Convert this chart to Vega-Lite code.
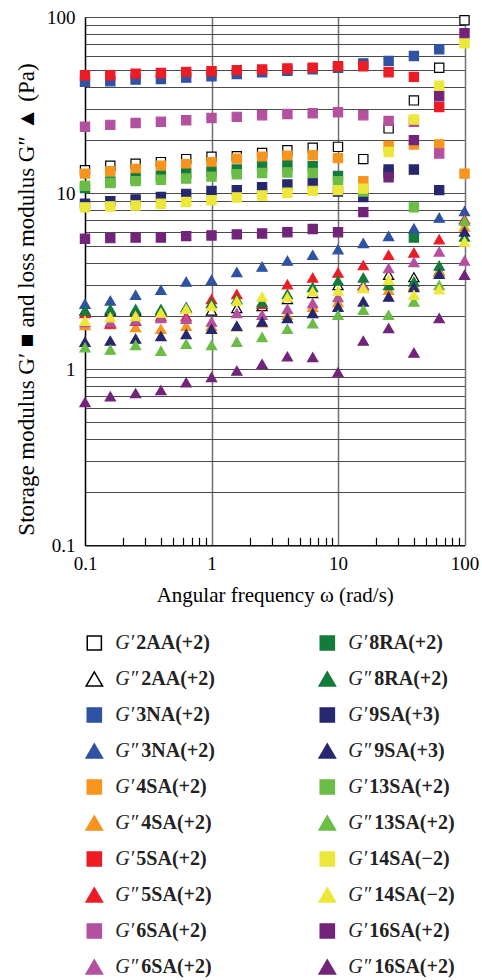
{
 "$schema": "https://vega.github.io/schema/vega-lite/v6.json",
 "background": "white",
 "padding": {"left": 15, "top": 8, "right": 5, "bottom": 0},
 "config": {"font": "Liberation Serif", "view": {"stroke": null}},
 "spacing": 19,
 "datasets": {
  "pts": [
   {"w":0.1,"s":"2AA(+2)","m":"G′","v":13.5},{"w":0.1585,"s":"2AA(+2)","m":"G′","v":14.3},{"w":0.2512,"s":"2AA(+2)","m":"G′","v":14.7},{"w":0.3981,"s":"2AA(+2)","m":"G′","v":15.0},{"w":0.631,"s":"2AA(+2)","m":"G′","v":15.6},{"w":1,"s":"2AA(+2)","m":"G′","v":16.1},{"w":1.585,"s":"2AA(+2)","m":"G′","v":16.2},{"w":2.512,"s":"2AA(+2)","m":"G′","v":16.9},{"w":3.981,"s":"2AA(+2)","m":"G′","v":17.5},{"w":6.31,"s":"2AA(+2)","m":"G′","v":18.1},{"w":10,"s":"2AA(+2)","m":"G′","v":18.3},{"w":15.85,"s":"2AA(+2)","m":"G′","v":15.6},{"w":25.12,"s":"2AA(+2)","m":"G′","v":23.3},{"w":39.81,"s":"2AA(+2)","m":"G′","v":33.6},{"w":63.1,"s":"2AA(+2)","m":"G′","v":51.5},{"w":100,"s":"2AA(+2)","m":"G′","v":95.8},
   {"w":0.1,"s":"3NA(+2)","m":"G′","v":42.8},{"w":0.1585,"s":"3NA(+2)","m":"G′","v":43.2},{"w":0.2512,"s":"3NA(+2)","m":"G′","v":44.2},{"w":0.3981,"s":"3NA(+2)","m":"G′","v":44.5},{"w":0.631,"s":"3NA(+2)","m":"G′","v":45.3},{"w":1,"s":"3NA(+2)","m":"G′","v":46.1},{"w":1.585,"s":"3NA(+2)","m":"G′","v":47.5},{"w":2.512,"s":"3NA(+2)","m":"G′","v":48.5},{"w":3.981,"s":"3NA(+2)","m":"G′","v":49.5},{"w":6.31,"s":"3NA(+2)","m":"G′","v":50.5},{"w":10,"s":"3NA(+2)","m":"G′","v":51.5},{"w":15.85,"s":"3NA(+2)","m":"G′","v":54.5},{"w":25.12,"s":"3NA(+2)","m":"G′","v":56.3},{"w":39.81,"s":"3NA(+2)","m":"G′","v":60.1},{"w":63.1,"s":"3NA(+2)","m":"G′","v":65.6},
   {"w":0.1,"s":"4SA(+2)","m":"G′","v":12.9},{"w":0.1585,"s":"4SA(+2)","m":"G′","v":13.3},{"w":0.2512,"s":"4SA(+2)","m":"G′","v":13.7},{"w":0.3981,"s":"4SA(+2)","m":"G′","v":14.3},{"w":0.631,"s":"4SA(+2)","m":"G′","v":14.6},{"w":1,"s":"4SA(+2)","m":"G′","v":15.0},{"w":1.585,"s":"4SA(+2)","m":"G′","v":15.7},{"w":2.512,"s":"4SA(+2)","m":"G′","v":16.1},{"w":3.981,"s":"4SA(+2)","m":"G′","v":16.3},{"w":6.31,"s":"4SA(+2)","m":"G′","v":16.4},{"w":10,"s":"4SA(+2)","m":"G′","v":15.8},{"w":15.85,"s":"4SA(+2)","m":"G′","v":11.7},{"w":25.12,"s":"4SA(+2)","m":"G′","v":18.5},{"w":39.81,"s":"4SA(+2)","m":"G′","v":18.9},{"w":63.1,"s":"4SA(+2)","m":"G′","v":18.9},{"w":100,"s":"4SA(+2)","m":"G′","v":12.9},
   {"w":0.1,"s":"5SA(+2)","m":"G′","v":46.7},{"w":0.1585,"s":"5SA(+2)","m":"G′","v":46.7},{"w":0.2512,"s":"5SA(+2)","m":"G′","v":47.7},{"w":0.3981,"s":"5SA(+2)","m":"G′","v":48.1},{"w":0.631,"s":"5SA(+2)","m":"G′","v":48.8},{"w":1,"s":"5SA(+2)","m":"G′","v":49.2},{"w":1.585,"s":"5SA(+2)","m":"G′","v":49.9},{"w":2.512,"s":"5SA(+2)","m":"G′","v":50.3},{"w":3.981,"s":"5SA(+2)","m":"G′","v":51.0},{"w":6.31,"s":"5SA(+2)","m":"G′","v":51.6},{"w":10,"s":"5SA(+2)","m":"G′","v":52.5},{"w":15.85,"s":"5SA(+2)","m":"G′","v":52.5},{"w":25.12,"s":"5SA(+2)","m":"G′","v":48.6},{"w":39.81,"s":"5SA(+2)","m":"G′","v":45.7},{"w":63.1,"s":"5SA(+2)","m":"G′","v":30.8},
   {"w":0.1,"s":"6SA(+2)","m":"G′","v":23.8},{"w":0.1585,"s":"6SA(+2)","m":"G′","v":24.4},{"w":0.2512,"s":"6SA(+2)","m":"G′","v":25.0},{"w":0.3981,"s":"6SA(+2)","m":"G′","v":25.4},{"w":0.631,"s":"6SA(+2)","m":"G′","v":25.9},{"w":1,"s":"6SA(+2)","m":"G′","v":26.7},{"w":1.585,"s":"6SA(+2)","m":"G′","v":27.1},{"w":2.512,"s":"6SA(+2)","m":"G′","v":27.7},{"w":3.981,"s":"6SA(+2)","m":"G′","v":28.1},{"w":6.31,"s":"6SA(+2)","m":"G′","v":28.4},{"w":10,"s":"6SA(+2)","m":"G′","v":28.8},{"w":15.85,"s":"6SA(+2)","m":"G′","v":27.7},{"w":25.12,"s":"6SA(+2)","m":"G′","v":25.7},{"w":39.81,"s":"6SA(+2)","m":"G′","v":25.4},{"w":63.1,"s":"6SA(+2)","m":"G′","v":16.8},
   {"w":0.1,"s":"8RA(+2)","m":"G′","v":10.7},{"w":0.1585,"s":"8RA(+2)","m":"G′","v":11.6},{"w":0.2512,"s":"8RA(+2)","m":"G′","v":12.1},{"w":0.3981,"s":"8RA(+2)","m":"G′","v":12.5},{"w":0.631,"s":"8RA(+2)","m":"G′","v":12.9},{"w":1,"s":"8RA(+2)","m":"G′","v":13.2},{"w":1.585,"s":"8RA(+2)","m":"G′","v":13.6},{"w":2.512,"s":"8RA(+2)","m":"G′","v":14.1},{"w":3.981,"s":"8RA(+2)","m":"G′","v":14.3},{"w":6.31,"s":"8RA(+2)","m":"G′","v":14.2},{"w":10,"s":"8RA(+2)","m":"G′","v":12.5},{"w":25.12,"s":"8RA(+2)","m":"G′","v":13.0},{"w":39.81,"s":"8RA(+2)","m":"G′","v":5.6},
   {"w":0.1,"s":"9SA(+3)","m":"G′","v":8.7},{"w":0.1585,"s":"9SA(+3)","m":"G′","v":9.0},{"w":0.2512,"s":"9SA(+3)","m":"G′","v":9.2},{"w":0.3981,"s":"9SA(+3)","m":"G′","v":9.5},{"w":0.631,"s":"9SA(+3)","m":"G′","v":9.9},{"w":1,"s":"9SA(+3)","m":"G′","v":10.3},{"w":1.585,"s":"9SA(+3)","m":"G′","v":10.4},{"w":2.512,"s":"9SA(+3)","m":"G′","v":10.8},{"w":3.981,"s":"9SA(+3)","m":"G′","v":11.2},{"w":6.31,"s":"9SA(+3)","m":"G′","v":11.4},{"w":10,"s":"9SA(+3)","m":"G′","v":10.2},{"w":15.85,"s":"9SA(+3)","m":"G′","v":9.5},{"w":25.12,"s":"9SA(+3)","m":"G′","v":13.6},{"w":39.81,"s":"9SA(+3)","m":"G′","v":13.6},{"w":63.1,"s":"9SA(+3)","m":"G′","v":10.4},
   {"w":0.1,"s":"13SA(+2)","m":"G′","v":11.0},{"w":0.1585,"s":"13SA(+2)","m":"G′","v":11.4},{"w":0.2512,"s":"13SA(+2)","m":"G′","v":11.7},{"w":0.3981,"s":"13SA(+2)","m":"G′","v":11.9},{"w":0.631,"s":"13SA(+2)","m":"G′","v":12.1},{"w":1,"s":"13SA(+2)","m":"G′","v":12.4},{"w":1.585,"s":"13SA(+2)","m":"G′","v":12.8},{"w":2.512,"s":"13SA(+2)","m":"G′","v":13.0},{"w":3.981,"s":"13SA(+2)","m":"G′","v":13.1},{"w":6.31,"s":"13SA(+2)","m":"G′","v":13.0},{"w":10,"s":"13SA(+2)","m":"G′","v":11.7},{"w":15.85,"s":"13SA(+2)","m":"G′","v":10.2},{"w":39.81,"s":"13SA(+2)","m":"G′","v":8.3},
   {"w":0.1,"s":"14SA(−2)","m":"G′","v":8.3},{"w":0.1585,"s":"14SA(−2)","m":"G′","v":8.4},{"w":0.2512,"s":"14SA(−2)","m":"G′","v":8.5},{"w":0.3981,"s":"14SA(−2)","m":"G′","v":8.7},{"w":0.631,"s":"14SA(−2)","m":"G′","v":8.9},{"w":1,"s":"14SA(−2)","m":"G′","v":9.1},{"w":1.585,"s":"14SA(−2)","m":"G′","v":9.45},{"w":2.512,"s":"14SA(−2)","m":"G′","v":9.7},{"w":3.981,"s":"14SA(−2)","m":"G′","v":10.05},{"w":6.31,"s":"14SA(−2)","m":"G′","v":10.3},{"w":10,"s":"14SA(−2)","m":"G′","v":10.4},{"w":15.85,"s":"14SA(−2)","m":"G′","v":10.6},{"w":25.12,"s":"14SA(−2)","m":"G′","v":17.1},{"w":39.81,"s":"14SA(−2)","m":"G′","v":26.2},{"w":63.1,"s":"14SA(−2)","m":"G′","v":40.7},{"w":100,"s":"14SA(−2)","m":"G′","v":71},
   {"w":0.1,"s":"16SA(+2)","m":"G′","v":5.5},{"w":0.1585,"s":"16SA(+2)","m":"G′","v":5.55},{"w":0.2512,"s":"16SA(+2)","m":"G′","v":5.6},{"w":0.3981,"s":"16SA(+2)","m":"G′","v":5.6},{"w":0.631,"s":"16SA(+2)","m":"G′","v":5.7},{"w":1,"s":"16SA(+2)","m":"G′","v":5.75},{"w":1.585,"s":"16SA(+2)","m":"G′","v":5.83},{"w":2.512,"s":"16SA(+2)","m":"G′","v":5.9},{"w":3.981,"s":"16SA(+2)","m":"G′","v":6.0},{"w":6.31,"s":"16SA(+2)","m":"G′","v":6.25},{"w":10,"s":"16SA(+2)","m":"G′","v":6.0},{"w":15.85,"s":"16SA(+2)","m":"G′","v":7.8},{"w":25.12,"s":"16SA(+2)","m":"G′","v":12.3},{"w":39.81,"s":"16SA(+2)","m":"G′","v":20},{"w":63.1,"s":"16SA(+2)","m":"G′","v":35.5},{"w":100,"s":"16SA(+2)","m":"G′","v":81},
   {"w":0.1,"s":"2AA(+2)","m":"G″","v":2.15},{"w":0.1585,"s":"2AA(+2)","m":"G″","v":2.15},{"w":0.2512,"s":"2AA(+2)","m":"G″","v":2.15},{"w":0.3981,"s":"2AA(+2)","m":"G″","v":2.15},{"w":0.631,"s":"2AA(+2)","m":"G″","v":2.2},{"w":1,"s":"2AA(+2)","m":"G″","v":2.15},{"w":1.585,"s":"2AA(+2)","m":"G″","v":2.22},{"w":2.512,"s":"2AA(+2)","m":"G″","v":2.28},{"w":3.981,"s":"2AA(+2)","m":"G″","v":2.5},{"w":6.31,"s":"2AA(+2)","m":"G″","v":2.7},{"w":10,"s":"2AA(+2)","m":"G″","v":3.0},{"w":15.85,"s":"2AA(+2)","m":"G″","v":3.0},{"w":25.12,"s":"2AA(+2)","m":"G″","v":3.43},{"w":39.81,"s":"2AA(+2)","m":"G″","v":3.33},{"w":63.1,"s":"2AA(+2)","m":"G″","v":3.6},
   {"w":0.1,"s":"3NA(+2)","m":"G″","v":2.35},{"w":0.1585,"s":"3NA(+2)","m":"G″","v":2.45},{"w":0.2512,"s":"3NA(+2)","m":"G″","v":2.64},{"w":0.3981,"s":"3NA(+2)","m":"G″","v":2.82},{"w":0.631,"s":"3NA(+2)","m":"G″","v":3.14},{"w":1,"s":"3NA(+2)","m":"G″","v":3.21},{"w":1.585,"s":"3NA(+2)","m":"G″","v":3.56},{"w":2.512,"s":"3NA(+2)","m":"G″","v":3.82},{"w":3.981,"s":"3NA(+2)","m":"G″","v":4.13},{"w":6.31,"s":"3NA(+2)","m":"G″","v":4.45},{"w":10,"s":"3NA(+2)","m":"G″","v":4.79},{"w":15.85,"s":"3NA(+2)","m":"G″","v":5.2},{"w":25.12,"s":"3NA(+2)","m":"G″","v":5.7},{"w":39.81,"s":"3NA(+2)","m":"G″","v":6.3},{"w":63.1,"s":"3NA(+2)","m":"G″","v":7.25},{"w":100,"s":"3NA(+2)","m":"G″","v":7.9},
   {"w":0.1,"s":"4SA(+2)","m":"G″","v":1.78},{"w":0.1585,"s":"4SA(+2)","m":"G″","v":1.8},{"w":0.2512,"s":"4SA(+2)","m":"G″","v":1.73},{"w":0.3981,"s":"4SA(+2)","m":"G″","v":1.69},{"w":0.631,"s":"4SA(+2)","m":"G″","v":1.76},{"w":1,"s":"4SA(+2)","m":"G″","v":1.76},{"w":1.585,"s":"4SA(+2)","m":"G″","v":1.75},{"w":2.512,"s":"4SA(+2)","m":"G″","v":1.84},{"w":3.981,"s":"4SA(+2)","m":"G″","v":2.03},{"w":6.31,"s":"4SA(+2)","m":"G″","v":2.26},{"w":10,"s":"4SA(+2)","m":"G″","v":2.4},{"w":15.85,"s":"4SA(+2)","m":"G″","v":2.9},{"w":25.12,"s":"4SA(+2)","m":"G″","v":2.82},{"w":39.81,"s":"4SA(+2)","m":"G″","v":3.0},{"w":63.1,"s":"4SA(+2)","m":"G″","v":3.6},{"w":100,"s":"4SA(+2)","m":"G″","v":6.45},
   {"w":0.1,"s":"5SA(+2)","m":"G″","v":2.08},{"w":0.1585,"s":"5SA(+2)","m":"G″","v":1.81},{"w":0.2512,"s":"5SA(+2)","m":"G″","v":1.88},{"w":0.3981,"s":"5SA(+2)","m":"G″","v":2.0},{"w":0.631,"s":"5SA(+2)","m":"G″","v":1.99},{"w":1,"s":"5SA(+2)","m":"G″","v":2.5},{"w":1.585,"s":"5SA(+2)","m":"G″","v":2.67},{"w":2.512,"s":"5SA(+2)","m":"G″","v":2.35},{"w":3.981,"s":"5SA(+2)","m":"G″","v":3.03},{"w":6.31,"s":"5SA(+2)","m":"G″","v":3.31},{"w":10,"s":"5SA(+2)","m":"G″","v":3.53},{"w":15.85,"s":"5SA(+2)","m":"G″","v":3.89},{"w":25.12,"s":"5SA(+2)","m":"G″","v":4.45},{"w":39.81,"s":"5SA(+2)","m":"G″","v":4.59},{"w":63.1,"s":"5SA(+2)","m":"G″","v":5.46},{"w":100,"s":"5SA(+2)","m":"G″","v":7.1},
   {"w":0.1,"s":"6SA(+2)","m":"G″","v":1.85},{"w":0.1585,"s":"6SA(+2)","m":"G″","v":1.85},{"w":0.2512,"s":"6SA(+2)","m":"G″","v":1.89},{"w":0.3981,"s":"6SA(+2)","m":"G″","v":1.95},{"w":0.631,"s":"6SA(+2)","m":"G″","v":1.93},{"w":1,"s":"6SA(+2)","m":"G″","v":1.86},{"w":1.585,"s":"6SA(+2)","m":"G″","v":2.08},{"w":2.512,"s":"6SA(+2)","m":"G″","v":2.03},{"w":3.981,"s":"6SA(+2)","m":"G″","v":2.2},{"w":6.31,"s":"6SA(+2)","m":"G″","v":2.37},{"w":10,"s":"6SA(+2)","m":"G″","v":2.56},{"w":15.85,"s":"6SA(+2)","m":"G″","v":3.0},{"w":25.12,"s":"6SA(+2)","m":"G″","v":3.74},{"w":39.81,"s":"6SA(+2)","m":"G″","v":4.05},{"w":63.1,"s":"6SA(+2)","m":"G″","v":4.65},{"w":100,"s":"6SA(+2)","m":"G″","v":4.13},
   {"w":0.1,"s":"8RA(+2)","m":"G″","v":2.15},{"w":0.1585,"s":"8RA(+2)","m":"G″","v":2.19},{"w":0.2512,"s":"8RA(+2)","m":"G″","v":2.19},{"w":0.3981,"s":"8RA(+2)","m":"G″","v":2.19},{"w":0.631,"s":"8RA(+2)","m":"G″","v":2.25},{"w":1,"s":"8RA(+2)","m":"G″","v":2.37},{"w":1.585,"s":"8RA(+2)","m":"G″","v":2.5},{"w":2.512,"s":"8RA(+2)","m":"G″","v":2.4},{"w":3.981,"s":"8RA(+2)","m":"G″","v":2.67},{"w":6.31,"s":"8RA(+2)","m":"G″","v":2.92},{"w":10,"s":"8RA(+2)","m":"G″","v":3.18},{"w":15.85,"s":"8RA(+2)","m":"G″","v":3.31},{"w":25.12,"s":"8RA(+2)","m":"G″","v":3.0},{"w":39.81,"s":"8RA(+2)","m":"G″","v":3.14},{"w":63.1,"s":"8RA(+2)","m":"G″","v":3.87},{"w":100,"s":"8RA(+2)","m":"G″","v":5.66},
   {"w":0.1,"s":"9SA(+3)","m":"G″","v":1.43},{"w":0.1585,"s":"9SA(+3)","m":"G″","v":1.45},{"w":0.2512,"s":"9SA(+3)","m":"G″","v":1.49},{"w":0.3981,"s":"9SA(+3)","m":"G″","v":1.54},{"w":0.631,"s":"9SA(+3)","m":"G″","v":1.58},{"w":1,"s":"9SA(+3)","m":"G″","v":1.69},{"w":1.585,"s":"9SA(+3)","m":"G″","v":1.76},{"w":2.512,"s":"9SA(+3)","m":"G″","v":1.86},{"w":3.981,"s":"9SA(+3)","m":"G″","v":1.95},{"w":6.31,"s":"9SA(+3)","m":"G″","v":2.08},{"w":10,"s":"9SA(+3)","m":"G″","v":2.26},{"w":15.85,"s":"9SA(+3)","m":"G″","v":2.42},{"w":25.12,"s":"9SA(+3)","m":"G″","v":2.58},{"w":39.81,"s":"9SA(+3)","m":"G″","v":2.92},{"w":63.1,"s":"9SA(+3)","m":"G″","v":3.47},{"w":100,"s":"9SA(+3)","m":"G″","v":6.04},
   {"w":0.1,"s":"13SA(+2)","m":"G″","v":1.33},{"w":0.1585,"s":"13SA(+2)","m":"G″","v":1.29},{"w":0.2512,"s":"13SA(+2)","m":"G″","v":1.37},{"w":0.3981,"s":"13SA(+2)","m":"G″","v":1.27},{"w":0.631,"s":"13SA(+2)","m":"G″","v":1.39},{"w":1,"s":"13SA(+2)","m":"G″","v":1.37},{"w":1.585,"s":"13SA(+2)","m":"G″","v":1.43},{"w":2.512,"s":"13SA(+2)","m":"G″","v":1.52},{"w":3.981,"s":"13SA(+2)","m":"G″","v":1.69},{"w":6.31,"s":"13SA(+2)","m":"G″","v":1.82},{"w":10,"s":"13SA(+2)","m":"G″","v":2.03},{"w":15.85,"s":"13SA(+2)","m":"G″","v":2.17},{"w":25.12,"s":"13SA(+2)","m":"G″","v":2.03},{"w":39.81,"s":"13SA(+2)","m":"G″","v":2.42},{"w":63.1,"s":"13SA(+2)","m":"G″","v":3.0},{"w":100,"s":"13SA(+2)","m":"G″","v":6.95},
   {"w":0.1,"s":"14SA(−2)","m":"G″","v":1.88},{"w":0.1585,"s":"14SA(−2)","m":"G″","v":1.97},{"w":0.2512,"s":"14SA(−2)","m":"G″","v":2.0},{"w":0.3981,"s":"14SA(−2)","m":"G″","v":2.09},{"w":0.631,"s":"14SA(−2)","m":"G″","v":2.2},{"w":1,"s":"14SA(−2)","m":"G″","v":2.28},{"w":1.585,"s":"14SA(−2)","m":"G″","v":2.44},{"w":2.512,"s":"14SA(−2)","m":"G″","v":2.58},{"w":3.981,"s":"14SA(−2)","m":"G″","v":2.56},{"w":6.31,"s":"14SA(−2)","m":"G″","v":2.76},{"w":10,"s":"14SA(−2)","m":"G″","v":2.79},{"w":15.85,"s":"14SA(−2)","m":"G″","v":2.88},{"w":25.12,"s":"14SA(−2)","m":"G″","v":3.21},{"w":39.81,"s":"14SA(−2)","m":"G″","v":2.64},{"w":63.1,"s":"14SA(−2)","m":"G″","v":2.84},{"w":100,"s":"14SA(−2)","m":"G″","v":5.3},
   {"w":0.1,"s":"16SA(+2)","m":"G″","v":0.65},{"w":0.1585,"s":"16SA(+2)","m":"G″","v":0.70},{"w":0.2512,"s":"16SA(+2)","m":"G″","v":0.73},{"w":0.3981,"s":"16SA(+2)","m":"G″","v":0.76},{"w":0.631,"s":"16SA(+2)","m":"G″","v":0.84},{"w":1,"s":"16SA(+2)","m":"G″","v":0.90},{"w":1.585,"s":"16SA(+2)","m":"G″","v":0.98},{"w":2.512,"s":"16SA(+2)","m":"G″","v":1.07},{"w":3.981,"s":"16SA(+2)","m":"G″","v":1.18},{"w":6.31,"s":"16SA(+2)","m":"G″","v":1.17},{"w":10,"s":"16SA(+2)","m":"G″","v":0.96},{"w":15.85,"s":"16SA(+2)","m":"G″","v":1.45},{"w":25.12,"s":"16SA(+2)","m":"G″","v":1.71},{"w":39.81,"s":"16SA(+2)","m":"G″","v":1.24},{"w":63.1,"s":"16SA(+2)","m":"G″","v":1.95},{"w":100,"s":"16SA(+2)","m":"G″","v":3.43}
  ],
  "leg": [
   {"s":"2AA(+2)","m":"G′","col":0,"row":0},{"s":"2AA(+2)","m":"G″","col":0,"row":1},
   {"s":"3NA(+2)","m":"G′","col":0,"row":2},{"s":"3NA(+2)","m":"G″","col":0,"row":3},
   {"s":"4SA(+2)","m":"G′","col":0,"row":4},{"s":"4SA(+2)","m":"G″","col":0,"row":5},
   {"s":"5SA(+2)","m":"G′","col":0,"row":6},{"s":"5SA(+2)","m":"G″","col":0,"row":7},
   {"s":"6SA(+2)","m":"G′","col":0,"row":8},{"s":"6SA(+2)","m":"G″","col":0,"row":9},
   {"s":"8RA(+2)","m":"G′","col":1,"row":0},{"s":"8RA(+2)","m":"G″","col":1,"row":1},
   {"s":"9SA(+3)","m":"G′","col":1,"row":2},{"s":"9SA(+3)","m":"G″","col":1,"row":3},
   {"s":"13SA(+2)","m":"G′","col":1,"row":4},{"s":"13SA(+2)","m":"G″","col":1,"row":5},
   {"s":"14SA(−2)","m":"G′","col":1,"row":6},{"s":"14SA(−2)","m":"G″","col":1,"row":7},
   {"s":"16SA(+2)","m":"G′","col":1,"row":8},{"s":"16SA(+2)","m":"G″","col":1,"row":9}
  ]
 },
 "vconcat": [
  {
   "width": 379.5,
   "height": 528.3,
   "data": {"name": "pts"},
   "resolve": {"axis": {"x": "independent"}},
   "encoding": {
    "y": {"field": "v", "type": "quantitative",
     "scale": {"type": "log", "domain": [0.1, 100], "nice": false},
     "axis": {
      "values": [0.1,0.2,0.3,0.4,0.5,0.6,0.7,0.8,0.9,1,2,3,4,5,6,7,8,9,10,20,30,40,50,60,70,80,90,100],
      "labelExpr": "indexof([0.1,1,10,100], datum.value) >= 0 ? format(datum.value, '~g') : ''",
      "labelFontSize": 19, "labelColor": "black", "labelFont": "Liberation Serif",
      "labelOverlap": false, "labelFlush": false, "labelPadding": 10,
      "grid": true, "gridColor": "#4a4a4a", "gridWidth": 1.1,
      "ticks": false,
      "domainColor": "black", "domainWidth": 1.3,
      "minExtent": 38, "maxExtent": 38,
      "title": "Storage modulus G′ ■ and loss modulus G″ ▲ (Pa)", "titleFont": "Liberation Serif", "titleFontSize": 23, "titleFontWeight": "normal", "titleColor": "black", "titlePadding": 9,
      "titleY": 282
     }
    },
    "color": {"field": "s", "type": "nominal", "legend": null,
     "scale": {"domain": ["2AA(+2)","3NA(+2)","4SA(+2)","5SA(+2)","6SA(+2)","8RA(+2)","9SA(+3)","13SA(+2)","14SA(−2)","16SA(+2)"],
      "range": ["#ffffff","#2f52a3","#f7941d","#ed1c24","#b4519f","#137b3b","#25276f","#6bbd45","#ede73a","#72247a"]}},
    "stroke": {"field": "s", "type": "nominal", "legend": null,
     "scale": {"domain": ["2AA(+2)","3NA(+2)","4SA(+2)","5SA(+2)","6SA(+2)","8RA(+2)","9SA(+3)","13SA(+2)","14SA(−2)","16SA(+2)"],
      "range": ["#000000","#2f52a3","#f7941d","#ed1c24","#b4519f","#137b3b","#25276f","#6bbd45","#ede73a","#72247a"]}}
   },
   "layer": [
    {"transform": [{"filter": "datum.m === 'G′'"}],
     "mark": {"type": "point", "shape": "square", "filled": true, "size": 85, "strokeWidth": 1.2, "opacity": 1},
     "encoding": {
      "x": {"field": "w", "type": "quantitative",
       "scale": {"type": "log", "domain": [0.1, 100], "nice": false},
       "axis": {
        "orient": "bottom",
        "values": [0.1,1,10,100],
        "format": "~g",
        "labelFontSize": 19, "labelColor": "black", "labelFont": "Liberation Serif",
        "labelOverlap": false, "labelFlush": false, "labelPadding": 9,
        "grid": true, "gridColor": "#707070", "gridWidth": 1.5,
        "ticks": false,
        "domainColor": "black", "domainWidth": 1.3,
        "title": "Angular frequency ω (rad/s)", "titleFont": "Liberation Serif", "titleFontSize": 21, "titleFontWeight": "normal", "titleColor": "black", "titlePadding": 11
       }
      }
     }},
    {"transform": [{"filter": "datum.m === 'G″'"}],
     "mark": {"type": "point", "shape": "triangle-up", "filled": true, "size": 105, "strokeWidth": 1.2, "opacity": 1},
     "encoding": {
      "x": {"field": "w", "type": "quantitative",
       "scale": {"type": "log", "domain": [0.1, 100], "nice": false},
       "axis": {
        "orient": "bottom",
        "offset": -8,
        "values": [0.2,0.3,0.4,0.5,0.6,0.7,0.8,0.9,2,3,4,5,6,7,8,9,20,30,40,50,60,70,80,90],
        "labels": false, "domain": false, "grid": false,
        "ticks": true, "tickSize": 8, "tickColor": "black", "tickWidth": 1.2,
        "title": null
       }
      }
     }}
   ]
  },
  {
   "width": 380,
   "height": 350,
   "data": {"name": "leg"},
   "encoding": {
    "x": {"field": "col", "type": "quantitative", "scale": {"domain": [-0.04, 1.591]}, "axis": null},
    "y": {"field": "row", "type": "quantitative", "scale": {"domain": [-0.5, 9.222], "reverse": true}, "axis": null}
   },
   "layer": [
    {"transform": [{"filter": "datum.m === 'G′'"}],
     "mark": {"type": "point", "shape": "square", "filled": true, "size": 200, "strokeWidth": 1.5, "opacity": 1},
     "encoding": {
      "color": {"field": "s", "type": "nominal", "legend": null,
       "scale": {"domain": ["2AA(+2)","3NA(+2)","4SA(+2)","5SA(+2)","6SA(+2)","8RA(+2)","9SA(+3)","13SA(+2)","14SA(−2)","16SA(+2)"],
        "range": ["#ffffff","#2f52a3","#f7941d","#ed1c24","#b4519f","#137b3b","#25276f","#6bbd45","#ede73a","#72247a"]}},
      "stroke": {"field": "s", "type": "nominal", "legend": null,
       "scale": {"domain": ["2AA(+2)","3NA(+2)","4SA(+2)","5SA(+2)","6SA(+2)","8RA(+2)","9SA(+3)","13SA(+2)","14SA(−2)","16SA(+2)"],
        "range": ["#000000","#2f52a3","#f7941d","#ed1c24","#b4519f","#137b3b","#25276f","#6bbd45","#ede73a","#72247a"]}}
     }},
    {"transform": [{"filter": "datum.m === 'G″'"}],
     "mark": {"type": "point", "shape": "triangle-up", "filled": true, "size": 270, "strokeWidth": 1.5, "opacity": 1},
     "encoding": {
      "color": {"field": "s", "type": "nominal", "legend": null,
       "scale": {"domain": ["2AA(+2)","3NA(+2)","4SA(+2)","5SA(+2)","6SA(+2)","8RA(+2)","9SA(+3)","13SA(+2)","14SA(−2)","16SA(+2)"],
        "range": ["#ffffff","#2f52a3","#f7941d","#ed1c24","#b4519f","#137b3b","#25276f","#6bbd45","#ede73a","#72247a"]}},
      "stroke": {"field": "s", "type": "nominal", "legend": null,
       "scale": {"domain": ["2AA(+2)","3NA(+2)","4SA(+2)","5SA(+2)","6SA(+2)","8RA(+2)","9SA(+3)","13SA(+2)","14SA(−2)","16SA(+2)"],
        "range": ["#000000","#2f52a3","#f7941d","#ed1c24","#b4519f","#137b3b","#25276f","#6bbd45","#ede73a","#72247a"]}}
     }},
    {"mark": {"type": "text", "align": "left", "baseline": "middle", "dx": 21, "font": "Liberation Serif", "fontStyle": "italic", "fontSize": 20, "color": "#222"},
     "encoding": {"text": {"field": "m"}}},
    {"transform": [{"filter": "datum.m === 'G′'"}],
     "mark": {"type": "text", "align": "left", "baseline": "middle", "dx": 42, "font": "Liberation Serif", "fontWeight": "bold", "fontSize": 20, "color": "#222"},
     "encoding": {"text": {"field": "s"}}},
    {"transform": [{"filter": "datum.m === 'G″'"}],
     "mark": {"type": "text", "align": "left", "baseline": "middle", "dx": 47, "font": "Liberation Serif", "fontWeight": "bold", "fontSize": 20, "color": "#222"},
     "encoding": {"text": {"field": "s"}}}
   ]
  }
 ]
}
